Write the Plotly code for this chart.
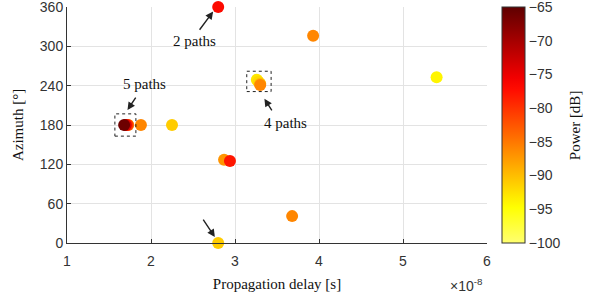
import plotly.graph_objects as go
import numpy as np

# Data (delay in units of 1e-8 s, azimuth deg, power dB)
delay = [2.80, 3.93, 5.40, 3.26, 3.28, 3.30, 3.30, 1.73, 1.72, 1.70, 1.88, 2.25, 2.87, 2.94, 3.68, 2.80, 1.68]
azimuth = [360, 316, 253, 249, 246, 243, 241, 180, 180, 180, 180, 180, 127, 125, 41, 0, 180]
power = [-77, -86, -94, -93, -92, -90, -86, -86, -80, -74, -86, -91, -87, -78, -86, -91, -66]

x_ticks = [1, 2, 3, 4, 5, 6]
y_ticks = [0, 60, 120, 180, 240, 300, 360]
cb_ticks = [-65, -70, -75, -80, -85, -90, -95, -100]

# Truncated, reversed "hot" colormap
def hot(t):
    r = min(1, max(0, t / 0.375))
    g = min(1, max(0, (t - 0.375) / 0.375))
    b = min(1, max(0, (t - 0.75) / 0.25))
    return "rgb(%d,%d,%d)" % (round(r * 255), round(g * 255), round(b * 255))

n = 20
cs = []
for i in range(n + 1):
    f = i / n
    t = 0.86 - f * (0.86 - 0.14)
    cs.append([f, hot(t)])

fig = go.Figure()
fig.add_trace(go.Scatter(
    x=delay, y=azimuth, mode="markers",
    marker=dict(size=12, color=power, colorscale=cs, cmin=-100, cmax=-65,
                line=dict(width=0),
                colorbar=dict(
                    x=1.036, xanchor="left", y=0, yanchor="bottom", len=1, lenmode="fraction",
                    xpad=0, ypad=0,
                    thickness=23, outlinewidth=1, outlinecolor="#333",
                    tickvals=cb_ticks, ticks="", ticklen=0, ticklabeloverflow="allow",
                    tickfont=dict(family="Liberation Sans", size=14, color="#333"))),
    showlegend=False, hoverinfo="skip", cliponaxis=False))

serif = dict(family="Liberation Serif", size=15, color="#111")

# colorbar title
fig.add_annotation(x=1.21, y=0.5, xref="paper", yref="paper", text="Power [dB]", textangle=-90,
                   showarrow=False, font=serif, xanchor="center", yanchor="middle")

def arrow(text, tx, ty, hx, hy, lx, ly):
    fig.add_annotation(x=hx, y=hy, ax=tx, ay=ty, axref="x", ayref="y", xref="x", yref="y",
                       showarrow=True, arrowhead=2, arrowsize=1.1, arrowwidth=1.4,
                       arrowcolor="#222", text="")
    if text:
        fig.add_annotation(x=lx, y=ly, xref="x", yref="y", text=text, showarrow=False, font=serif)

arrow("2 paths", 2.565, 323, 2.74, 353, 2.52, 308)
arrow("5 paths", 1.83, 224, 1.72, 203, 1.92, 242)
arrow("4 paths", 3.45, 200, 3.35, 220, 3.60, 183)
arrow("", 2.61, 38, 2.76, 9, 0, 0)

box = dict(type="rect", xref="x", yref="y", line=dict(color="#222", width=1, dash="dot"))
fig.add_shape(x0=1.57, x1=1.82, y0=163, y1=197, **box)
fig.add_shape(x0=3.14, x1=3.43, y0=231, y1=262, **box)

fig.add_annotation(x=0.995, y=-0.13, xref="paper", yref="paper", xanchor="right", yanchor="top",
                   text="×10<sup>-8</sup>", showarrow=False,
                   font=dict(family="Liberation Sans", size=14, color="#333"))

axis_common = dict(showgrid=True, gridcolor="#e3e3e3", gridwidth=1, zeroline=False,
                   showline=True, linecolor="#333", linewidth=1, ticks="inside", ticklen=4,
                   tickcolor="#333", tickfont=dict(family="Liberation Sans", size=14, color="#333"),
                   mirror=False, automargin=False, ticklabeloverflow="allow")

fig.update_layout(
    width=597, height=296, margin=dict(l=67, r=110, t=7, b=53),
    paper_bgcolor="white", plot_bgcolor="white",
    xaxis=dict(range=[1, 6], tickvals=x_ticks, ticklabelstandoff=5,
               title=dict(text="Propagation delay [s]", font=serif, standoff=10), **axis_common),
    yaxis=dict(range=[0, 360], tickvals=y_ticks,
               title=dict(text="Azimuth [°]", font=serif, standoff=12), **axis_common),
)

fig.write_html("out.html", config={"displayModeBar": False},
               post_script="document.body.style.margin='0';")
